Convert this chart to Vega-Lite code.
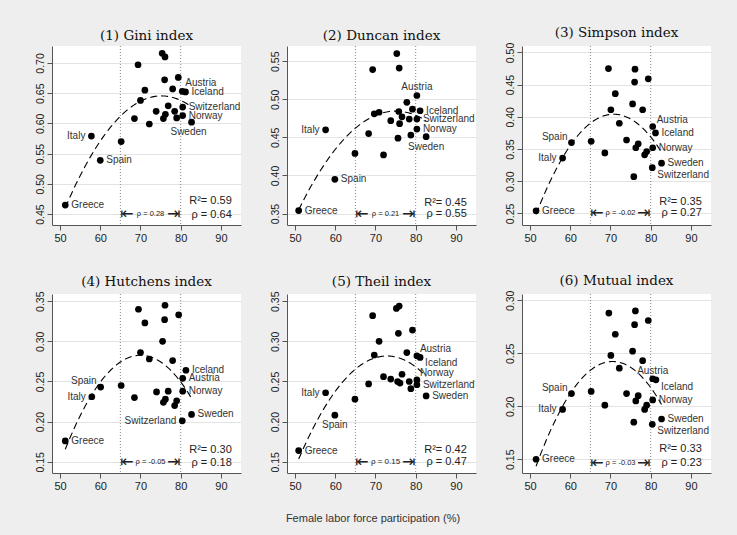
{
"$schema":"https://vega.github.io/schema/vega-lite/v6.json",
"background":"#eeeeee",
"padding":{"left":35,"top":25,"right":27,"bottom":15},
"title":{"text":"Female labor force participation (%)","orient":"bottom","anchor":"middle","font":"Liberation Sans","fontSize":11,"fontWeight":"normal","color":"#333","offset":22},
"datasets":{
"p1":[{"x":51.3,"y":0.465,"c":"Greece","p":"r"},{"x":57.8,"y":0.579,"c":"Italy","p":"l"},{"x":60.0,"y":0.539,"c":"Spain","p":"r"},{"x":65.2,"y":0.570},{"x":68.5,"y":0.608},{"x":69.4,"y":0.697},{"x":70.0,"y":0.638},{"x":71.1,"y":0.655},{"x":72.2,"y":0.599},{"x":73.9,"y":0.620},{"x":75.4,"y":0.716},{"x":76.1,"y":0.710},{"x":76.0,"y":0.672},{"x":75.7,"y":0.608},{"x":76.2,"y":0.615},{"x":76.9,"y":0.629},{"x":78.0,"y":0.657},{"x":78.5,"y":0.620},{"x":79.0,"y":0.609},{"x":79.4,"y":0.676},{"x":80.4,"y":0.653,"c":"Austria","p":"ar"},{"x":81.2,"y":0.652,"c":"Iceland","p":"r"},{"x":80.5,"y":0.627,"c":"Switzerland","p":"r"},{"x":80.5,"y":0.613,"c":"Norway","p":"r"},{"x":82.7,"y":0.602,"c":"Sweden","p":"b"}],
"p2":[{"x":50.9,"y":0.354,"c":"Greece","p":"r"},{"x":57.6,"y":0.460,"c":"Italy","p":"l"},{"x":59.9,"y":0.395,"c":"Spain","p":"r"},{"x":64.9,"y":0.429},{"x":68.3,"y":0.455},{"x":69.3,"y":0.539},{"x":69.7,"y":0.481},{"x":70.9,"y":0.483},{"x":72.0,"y":0.427},{"x":73.8,"y":0.472},{"x":75.3,"y":0.560},{"x":75.9,"y":0.541},{"x":75.6,"y":0.449},{"x":76.0,"y":0.468},{"x":75.8,"y":0.484},{"x":76.6,"y":0.477},{"x":77.8,"y":0.496},{"x":78.4,"y":0.474},{"x":78.8,"y":0.453},{"x":79.2,"y":0.487},{"x":80.3,"y":0.505,"c":"Austria","p":"a"},{"x":81.1,"y":0.485,"c":"Iceland","p":"r"},{"x":80.3,"y":0.474,"c":"Switzerland","p":"r"},{"x":80.3,"y":0.461,"c":"Norway","p":"r"},{"x":82.6,"y":0.451,"c":"Sweden","p":"b"}],
"p3":[{"x":51.5,"y":0.254,"c":"Greece","p":"r"},{"x":58.1,"y":0.336,"c":"Italy","p":"l"},{"x":60.3,"y":0.360,"c":"Spain","p":"al"},{"x":65.2,"y":0.362},{"x":68.6,"y":0.344},{"x":69.5,"y":0.475},{"x":70.1,"y":0.411},{"x":71.2,"y":0.436},{"x":72.2,"y":0.390},{"x":74.0,"y":0.364},{"x":75.5,"y":0.420},{"x":76.1,"y":0.474},{"x":76.0,"y":0.454},{"x":75.8,"y":0.307},{"x":76.3,"y":0.352},{"x":76.9,"y":0.358},{"x":78.0,"y":0.411},{"x":78.5,"y":0.341},{"x":79.0,"y":0.346},{"x":79.4,"y":0.459},{"x":80.5,"y":0.385,"c":"Austria","p":"ar"},{"x":81.2,"y":0.375,"c":"Iceland","p":"r"},{"x":80.5,"y":0.352,"c":"Norway","p":"r"},{"x":80.4,"y":0.321,"c":"Switzerland","p":"br"},{"x":82.7,"y":0.328,"c":"Sweden","p":"r"}],
"p4":[{"x":51.3,"y":0.176,"c":"Greece","p":"r"},{"x":57.9,"y":0.231,"c":"Italy","p":"l"},{"x":60.1,"y":0.243,"c":"Spain","p":"al"},{"x":65.2,"y":0.245},{"x":68.5,"y":0.230},{"x":69.5,"y":0.340},{"x":70.0,"y":0.286},{"x":71.1,"y":0.323},{"x":72.2,"y":0.278},{"x":74.0,"y":0.237},{"x":75.5,"y":0.300},{"x":76.1,"y":0.345},{"x":76.0,"y":0.327},{"x":75.7,"y":0.224},{"x":76.2,"y":0.228},{"x":76.9,"y":0.238},{"x":78.0,"y":0.276},{"x":78.5,"y":0.220},{"x":79.0,"y":0.226},{"x":79.5,"y":0.333},{"x":81.3,"y":0.264,"c":"Iceland","p":"r"},{"x":80.5,"y":0.254,"c":"Austria","p":"r"},{"x":80.5,"y":0.238,"c":"Norway","p":"r"},{"x":80.4,"y":0.201,"c":"Switzerland","p":"l"},{"x":82.7,"y":0.209,"c":"Sweden","p":"r"}],
"p5":[{"x":50.9,"y":0.164,"c":"Greece","p":"r"},{"x":57.6,"y":0.236,"c":"Italy","p":"l"},{"x":59.9,"y":0.208,"c":"Spain","p":"b"},{"x":64.9,"y":0.228},{"x":68.3,"y":0.247},{"x":69.3,"y":0.332},{"x":69.7,"y":0.283},{"x":70.9,"y":0.300},{"x":72.0,"y":0.256},{"x":73.8,"y":0.253},{"x":75.2,"y":0.341},{"x":75.9,"y":0.344},{"x":75.7,"y":0.310},{"x":75.5,"y":0.250},{"x":76.1,"y":0.248},{"x":76.6,"y":0.259},{"x":77.8,"y":0.286},{"x":78.4,"y":0.250},{"x":78.8,"y":0.241},{"x":79.2,"y":0.314},{"x":80.3,"y":0.282,"c":"Austria","p":"ar"},{"x":81.1,"y":0.280,"c":"Iceland","p":"br"},{"x":80.3,"y":0.252,"c":"Norway","p":"ar"},{"x":80.3,"y":0.246,"c":"Switzerland","p":"r"},{"x":82.6,"y":0.232,"c":"Sweden","p":"r"}],
"p6":[{"x":51.5,"y":0.150,"c":"Greece","p":"r"},{"x":58.1,"y":0.197,"c":"Italy","p":"l"},{"x":60.3,"y":0.212,"c":"Spain","p":"al"},{"x":65.2,"y":0.214},{"x":68.6,"y":0.201},{"x":69.6,"y":0.288},{"x":70.1,"y":0.248},{"x":71.2,"y":0.268},{"x":72.2,"y":0.236},{"x":74.0,"y":0.212},{"x":75.5,"y":0.252},{"x":76.2,"y":0.290},{"x":76.0,"y":0.277},{"x":75.8,"y":0.185},{"x":76.3,"y":0.205},{"x":76.9,"y":0.210},{"x":78.0,"y":0.243},{"x":78.5,"y":0.197},{"x":79.0,"y":0.201},{"x":79.4,"y":0.281},{"x":80.5,"y":0.226,"c":"Austria","p":"a"},{"x":81.3,"y":0.225,"c":"Iceland","p":"br"},{"x":80.5,"y":0.206,"c":"Norway","p":"r"},{"x":80.4,"y":0.183,"c":"Switzerland","p":"br"},{"x":82.7,"y":0.188,"c":"Sweden","p":"r"}]
},
"spacing":30,
"vconcat":[
{"hconcat":[
{"width":189,"height":179,"title":"(1) Gini index",
 "encoding":{"x":{"field":"x","type":"quantitative","scale":{"domain":[48,95],"nice":false,"zero":false},"axis":{"values":[50,60,70,80,90],"tickCount":20,"title":null,"grid":false}}},
 "layer":[
  {"data":{"values":[{"x":65},{"x":80}]},"mark":{"type":"rule","color":"#888","strokeDash":[1,2]},"encoding":{}},
  {"data":{"name":"p1"},"transform":[{"regression":"y","on":"x","method":"poly","order":2}],"mark":{"type":"line","color":"black","strokeDash":[7,4],"strokeWidth":1.1},"encoding":{"y":{"field":"y","type":"quantitative","scale":{"domain":[0.432,0.728],"nice":false,"zero":false},"axis":{"values":[0.45,0.5,0.55,0.6,0.65,0.7],"tickCount":20,"format":".2f","title":null,"labelOverlap":false}}}},
  {"data":{"name":"p1"},"mark":{"type":"circle","size":45,"color":"black","opacity":1},"encoding":{"y":{"field":"y","type":"quantitative"}}},
  {"data":{"name":"p1"},"transform":[{"filter":"datum.p==='r'"}],"mark":{"type":"text","align":"left","dx":6},"encoding":{"y":{"field":"y","type":"quantitative"},"text":{"field":"c"}}},
  {"data":{"name":"p1"},"transform":[{"filter":"datum.p==='l'"}],"mark":{"type":"text","align":"right","dx":-6},"encoding":{"y":{"field":"y","type":"quantitative"},"text":{"field":"c"}}},
  {"data":{"name":"p1"},"transform":[{"filter":"datum.p==='ar'"}],"mark":{"type":"text","align":"left","dx":3,"dy":-8},"encoding":{"y":{"field":"y","type":"quantitative"},"text":{"field":"c"}}},
  {"data":{"name":"p1"},"transform":[{"filter":"datum.p==='b'"}],"mark":{"type":"text","align":"center","dx":-3,"dy":10},"encoding":{"y":{"field":"y","type":"quantitative"},"text":{"field":"c"}}},
  {"data":{"values":[{"x":92.7,"y":0.471,"t":"R²= 0.59"},{"x":92.7,"y":0.449,"t":"ρ = 0.64"}]},"mark":{"type":"text","align":"right","fontSize":11,"color":"#222"},"encoding":{"y":{"field":"y","type":"quantitative"},"text":{"field":"t"}}},
  {"data":{"values":[{"x":65,"y":0.450,"t":"⇤"}]},"mark":{"type":"text","align":"left","font":"DejaVu Sans","fontSize":16,"color":"#222"},"encoding":{"y":{"field":"y","type":"quantitative"},"text":{"field":"t"}}},
  {"data":{"values":[{"x":80,"y":0.450,"t":"⇥"}]},"mark":{"type":"text","align":"right","font":"DejaVu Sans","fontSize":16,"color":"#222"},"encoding":{"y":{"field":"y","type":"quantitative"},"text":{"field":"t"}}},
  {"data":{"values":[{"x":72.5,"y":0.450,"t":"ρ = 0.28"}]},"mark":{"type":"text","align":"center","fontSize":7.5,"color":"#222"},"encoding":{"y":{"field":"y","type":"quantitative"},"text":{"field":"t"}}}
 ]},
{"width":189,"height":179,"title":"(2) Duncan index",
 "encoding":{"x":{"field":"x","type":"quantitative","scale":{"domain":[48,95],"nice":false,"zero":false},"axis":{"values":[50,60,70,80,90],"tickCount":20,"title":null,"grid":false}}},
 "layer":[
  {"data":{"values":[{"x":65},{"x":80}]},"mark":{"type":"rule","color":"#888","strokeDash":[1,2]},"encoding":{}},
  {"data":{"name":"p2"},"transform":[{"regression":"y","on":"x","method":"poly","order":2}],"mark":{"type":"line","color":"black","strokeDash":[7,4],"strokeWidth":1.1},"encoding":{"y":{"field":"y","type":"quantitative","scale":{"domain":[0.335,0.57],"nice":false,"zero":false},"axis":{"values":[0.35,0.4,0.45,0.5,0.55],"tickCount":20,"format":".2f","title":null,"labelOverlap":false}}}},
  {"data":{"name":"p2"},"mark":{"type":"circle","size":45,"color":"black","opacity":1},"encoding":{"y":{"field":"y","type":"quantitative"}}},
  {"data":{"name":"p2"},"transform":[{"filter":"datum.p==='r'"}],"mark":{"type":"text","align":"left","dx":6},"encoding":{"y":{"field":"y","type":"quantitative"},"text":{"field":"c"}}},
  {"data":{"name":"p2"},"transform":[{"filter":"datum.p==='l'"}],"mark":{"type":"text","align":"right","dx":-6},"encoding":{"y":{"field":"y","type":"quantitative"},"text":{"field":"c"}}},
  {"data":{"name":"p2"},"transform":[{"filter":"datum.p==='a'"}],"mark":{"type":"text","align":"center","dy":-9},"encoding":{"y":{"field":"y","type":"quantitative"},"text":{"field":"c"}}},
  {"data":{"name":"p2"},"transform":[{"filter":"datum.p==='b'"}],"mark":{"type":"text","align":"center","dy":10},"encoding":{"y":{"field":"y","type":"quantitative"},"text":{"field":"c"}}},
  {"data":{"values":[{"x":92.7,"y":0.3635,"t":"R²= 0.45"},{"x":92.7,"y":0.350,"t":"ρ = 0.55"}]},"mark":{"type":"text","align":"right","fontSize":11,"color":"#222"},"encoding":{"y":{"field":"y","type":"quantitative"},"text":{"field":"t"}}},
  {"data":{"values":[{"x":65,"y":0.350,"t":"⇤"}]},"mark":{"type":"text","align":"left","font":"DejaVu Sans","fontSize":16,"color":"#222"},"encoding":{"y":{"field":"y","type":"quantitative"},"text":{"field":"t"}}},
  {"data":{"values":[{"x":80,"y":0.350,"t":"⇥"}]},"mark":{"type":"text","align":"right","font":"DejaVu Sans","fontSize":16,"color":"#222"},"encoding":{"y":{"field":"y","type":"quantitative"},"text":{"field":"t"}}},
  {"data":{"values":[{"x":72.5,"y":0.350,"t":"ρ = 0.21"}]},"mark":{"type":"text","align":"center","fontSize":7.5,"color":"#222"},"encoding":{"y":{"field":"y","type":"quantitative"},"text":{"field":"t"}}}
 ]},
{"width":189,"height":179,"title":"(3) Simpson index",
 "encoding":{"x":{"field":"x","type":"quantitative","scale":{"domain":[48,95],"nice":false,"zero":false},"axis":{"values":[50,60,70,80,90],"tickCount":20,"title":null,"grid":false}}},
 "layer":[
  {"data":{"values":[{"x":65},{"x":80}]},"mark":{"type":"rule","color":"#888","strokeDash":[1,2]},"encoding":{}},
  {"data":{"name":"p3"},"transform":[{"regression":"y","on":"x","method":"poly","order":2}],"mark":{"type":"line","color":"black","strokeDash":[7,4],"strokeWidth":1.1},"encoding":{"y":{"field":"y","type":"quantitative","scale":{"domain":[0.232,0.51],"nice":false,"zero":false},"axis":{"values":[0.25,0.3,0.35,0.4,0.45,0.5],"tickCount":20,"format":".2f","title":null,"labelOverlap":false}}}},
  {"data":{"name":"p3"},"mark":{"type":"circle","size":45,"color":"black","opacity":1},"encoding":{"y":{"field":"y","type":"quantitative"}}},
  {"data":{"name":"p3"},"transform":[{"filter":"datum.p==='r'"}],"mark":{"type":"text","align":"left","dx":6},"encoding":{"y":{"field":"y","type":"quantitative"},"text":{"field":"c"}}},
  {"data":{"name":"p3"},"transform":[{"filter":"datum.p==='l'"}],"mark":{"type":"text","align":"right","dx":-6},"encoding":{"y":{"field":"y","type":"quantitative"},"text":{"field":"c"}}},
  {"data":{"name":"p3"},"transform":[{"filter":"datum.p==='al'"}],"mark":{"type":"text","align":"right","dx":-4,"dy":-6},"encoding":{"y":{"field":"y","type":"quantitative"},"text":{"field":"c"}}},
  {"data":{"name":"p3"},"transform":[{"filter":"datum.p==='ar'"}],"mark":{"type":"text","align":"left","dx":4,"dy":-6},"encoding":{"y":{"field":"y","type":"quantitative"},"text":{"field":"c"}}},
  {"data":{"name":"p3"},"transform":[{"filter":"datum.p==='br'"}],"mark":{"type":"text","align":"left","dx":5,"dy":7},"encoding":{"y":{"field":"y","type":"quantitative"},"text":{"field":"c"}}},
  {"data":{"values":[{"x":92.7,"y":0.267,"t":"R²= 0.35"},{"x":92.7,"y":0.251,"t":"ρ = 0.27"}]},"mark":{"type":"text","align":"right","fontSize":11,"color":"#222"},"encoding":{"y":{"field":"y","type":"quantitative"},"text":{"field":"t"}}},
  {"data":{"values":[{"x":65,"y":0.250,"t":"⇤"}]},"mark":{"type":"text","align":"left","font":"DejaVu Sans","fontSize":16,"color":"#222"},"encoding":{"y":{"field":"y","type":"quantitative"},"text":{"field":"t"}}},
  {"data":{"values":[{"x":80,"y":0.250,"t":"⇥"}]},"mark":{"type":"text","align":"right","font":"DejaVu Sans","fontSize":16,"color":"#222"},"encoding":{"y":{"field":"y","type":"quantitative"},"text":{"field":"t"}}},
  {"data":{"values":[{"x":72.5,"y":0.250,"t":"ρ = -0.02"}]},"mark":{"type":"text","align":"center","fontSize":7.5,"color":"#222"},"encoding":{"y":{"field":"y","type":"quantitative"},"text":{"field":"t"}}}
 ]}
],"spacing":29},
{"hconcat":[
{"width":189,"height":179,"title":"(4) Hutchens index",
 "encoding":{"x":{"field":"x","type":"quantitative","scale":{"domain":[48,95],"nice":false,"zero":false},"axis":{"values":[50,60,70,80,90],"tickCount":20,"title":null,"grid":false}}},
 "layer":[
  {"data":{"values":[{"x":65},{"x":80}]},"mark":{"type":"rule","color":"#888","strokeDash":[1,2]},"encoding":{}},
  {"data":{"name":"p4"},"transform":[{"regression":"y","on":"x","method":"poly","order":2}],"mark":{"type":"line","color":"black","strokeDash":[7,4],"strokeWidth":1.1},"encoding":{"y":{"field":"y","type":"quantitative","scale":{"domain":[0.136,0.359],"nice":false,"zero":false},"axis":{"values":[0.15,0.2,0.25,0.3,0.35],"tickCount":20,"format":".2f","title":null,"labelOverlap":false}}}},
  {"data":{"name":"p4"},"mark":{"type":"circle","size":45,"color":"black","opacity":1},"encoding":{"y":{"field":"y","type":"quantitative"}}},
  {"data":{"name":"p4"},"transform":[{"filter":"datum.p==='r'"}],"mark":{"type":"text","align":"left","dx":6},"encoding":{"y":{"field":"y","type":"quantitative"},"text":{"field":"c"}}},
  {"data":{"name":"p4"},"transform":[{"filter":"datum.p==='l'"}],"mark":{"type":"text","align":"right","dx":-6},"encoding":{"y":{"field":"y","type":"quantitative"},"text":{"field":"c"}}},
  {"data":{"name":"p4"},"transform":[{"filter":"datum.p==='al'"}],"mark":{"type":"text","align":"right","dx":-4,"dy":-6},"encoding":{"y":{"field":"y","type":"quantitative"},"text":{"field":"c"}}},
  {"data":{"values":[{"x":92.7,"y":0.1645,"t":"R²= 0.30"},{"x":92.7,"y":0.149,"t":"ρ = 0.18"}]},"mark":{"type":"text","align":"right","fontSize":11,"color":"#222"},"encoding":{"y":{"field":"y","type":"quantitative"},"text":{"field":"t"}}},
  {"data":{"values":[{"x":65,"y":0.150,"t":"⇤"}]},"mark":{"type":"text","align":"left","font":"DejaVu Sans","fontSize":16,"color":"#222"},"encoding":{"y":{"field":"y","type":"quantitative"},"text":{"field":"t"}}},
  {"data":{"values":[{"x":80,"y":0.150,"t":"⇥"}]},"mark":{"type":"text","align":"right","font":"DejaVu Sans","fontSize":16,"color":"#222"},"encoding":{"y":{"field":"y","type":"quantitative"},"text":{"field":"t"}}},
  {"data":{"values":[{"x":72.5,"y":0.150,"t":"ρ = -0.05"}]},"mark":{"type":"text","align":"center","fontSize":7.5,"color":"#222"},"encoding":{"y":{"field":"y","type":"quantitative"},"text":{"field":"t"}}}
 ]},
{"width":189,"height":179,"title":"(5) Theil index",
 "encoding":{"x":{"field":"x","type":"quantitative","scale":{"domain":[48,95],"nice":false,"zero":false},"axis":{"values":[50,60,70,80,90],"tickCount":20,"title":null,"grid":false}}},
 "layer":[
  {"data":{"values":[{"x":65},{"x":80}]},"mark":{"type":"rule","color":"#888","strokeDash":[1,2]},"encoding":{}},
  {"data":{"name":"p5"},"transform":[{"regression":"y","on":"x","method":"poly","order":2}],"mark":{"type":"line","color":"black","strokeDash":[7,4],"strokeWidth":1.1},"encoding":{"y":{"field":"y","type":"quantitative","scale":{"domain":[0.136,0.359],"nice":false,"zero":false},"axis":{"values":[0.15,0.2,0.25,0.3,0.35],"tickCount":20,"format":".2f","title":null,"labelOverlap":false}}}},
  {"data":{"name":"p5"},"mark":{"type":"circle","size":45,"color":"black","opacity":1},"encoding":{"y":{"field":"y","type":"quantitative"}}},
  {"data":{"name":"p5"},"transform":[{"filter":"datum.p==='r'"}],"mark":{"type":"text","align":"left","dx":6},"encoding":{"y":{"field":"y","type":"quantitative"},"text":{"field":"c"}}},
  {"data":{"name":"p5"},"transform":[{"filter":"datum.p==='l'"}],"mark":{"type":"text","align":"right","dx":-6},"encoding":{"y":{"field":"y","type":"quantitative"},"text":{"field":"c"}}},
  {"data":{"name":"p5"},"transform":[{"filter":"datum.p==='b'"}],"mark":{"type":"text","align":"center","dy":10},"encoding":{"y":{"field":"y","type":"quantitative"},"text":{"field":"c"}}},
  {"data":{"name":"p5"},"transform":[{"filter":"datum.p==='ar'"}],"mark":{"type":"text","align":"left","dx":3,"dy":-7},"encoding":{"y":{"field":"y","type":"quantitative"},"text":{"field":"c"}}},
  {"data":{"name":"p5"},"transform":[{"filter":"datum.p==='br'"}],"mark":{"type":"text","align":"left","dx":5,"dy":6},"encoding":{"y":{"field":"y","type":"quantitative"},"text":{"field":"c"}}},
  {"data":{"values":[{"x":92.7,"y":0.1645,"t":"R²= 0.42"},{"x":92.7,"y":0.150,"t":"ρ = 0.47"}]},"mark":{"type":"text","align":"right","fontSize":11,"color":"#222"},"encoding":{"y":{"field":"y","type":"quantitative"},"text":{"field":"t"}}},
  {"data":{"values":[{"x":65,"y":0.150,"t":"⇤"}]},"mark":{"type":"text","align":"left","font":"DejaVu Sans","fontSize":16,"color":"#222"},"encoding":{"y":{"field":"y","type":"quantitative"},"text":{"field":"t"}}},
  {"data":{"values":[{"x":80,"y":0.150,"t":"⇥"}]},"mark":{"type":"text","align":"right","font":"DejaVu Sans","fontSize":16,"color":"#222"},"encoding":{"y":{"field":"y","type":"quantitative"},"text":{"field":"t"}}},
  {"data":{"values":[{"x":72.5,"y":0.150,"t":"ρ = 0.15"}]},"mark":{"type":"text","align":"center","fontSize":8,"color":"#222"},"encoding":{"y":{"field":"y","type":"quantitative"},"text":{"field":"t"}}}
 ]},
{"width":189,"height":179,"title":"(6) Mutual index",
 "encoding":{"x":{"field":"x","type":"quantitative","scale":{"domain":[48,95],"nice":false,"zero":false},"axis":{"values":[50,60,70,80,90],"tickCount":20,"title":null,"grid":false}}},
 "layer":[
  {"data":{"values":[{"x":65},{"x":80}]},"mark":{"type":"rule","color":"#888","strokeDash":[1,2]},"encoding":{}},
  {"data":{"name":"p6"},"transform":[{"regression":"y","on":"x","method":"poly","order":2}],"mark":{"type":"line","color":"black","strokeDash":[7,4],"strokeWidth":1.1},"encoding":{"y":{"field":"y","type":"quantitative","scale":{"domain":[0.137,0.306],"nice":false,"zero":false},"axis":{"values":[0.15,0.2,0.25,0.3],"tickCount":20,"format":".2f","title":null,"labelOverlap":false}}}},
  {"data":{"name":"p6"},"mark":{"type":"circle","size":45,"color":"black","opacity":1},"encoding":{"y":{"field":"y","type":"quantitative"}}},
  {"data":{"name":"p6"},"transform":[{"filter":"datum.p==='r'"}],"mark":{"type":"text","align":"left","dx":6},"encoding":{"y":{"field":"y","type":"quantitative"},"text":{"field":"c"}}},
  {"data":{"name":"p6"},"transform":[{"filter":"datum.p==='l'"}],"mark":{"type":"text","align":"right","dx":-6},"encoding":{"y":{"field":"y","type":"quantitative"},"text":{"field":"c"}}},
  {"data":{"name":"p6"},"transform":[{"filter":"datum.p==='al'"}],"mark":{"type":"text","align":"right","dx":-4,"dy":-6},"encoding":{"y":{"field":"y","type":"quantitative"},"text":{"field":"c"}}},
  {"data":{"name":"p6"},"transform":[{"filter":"datum.p==='a'"}],"mark":{"type":"text","align":"center","dy":-8},"encoding":{"y":{"field":"y","type":"quantitative"},"text":{"field":"c"}}},
  {"data":{"name":"p6"},"transform":[{"filter":"datum.p==='br'"}],"mark":{"type":"text","align":"left","dx":5,"dy":7},"encoding":{"y":{"field":"y","type":"quantitative"},"text":{"field":"c"}}},
  {"data":{"values":[{"x":92.7,"y":0.1595,"t":"R²= 0.33"},{"x":92.7,"y":0.1468,"t":"ρ = 0.23"}]},"mark":{"type":"text","align":"right","fontSize":11,"color":"#222"},"encoding":{"y":{"field":"y","type":"quantitative"},"text":{"field":"t"}}},
  {"data":{"values":[{"x":65,"y":0.1468,"t":"⇤"}]},"mark":{"type":"text","align":"left","font":"DejaVu Sans","fontSize":16,"color":"#222"},"encoding":{"y":{"field":"y","type":"quantitative"},"text":{"field":"t"}}},
  {"data":{"values":[{"x":80,"y":0.1468,"t":"⇥"}]},"mark":{"type":"text","align":"right","font":"DejaVu Sans","fontSize":16,"color":"#222"},"encoding":{"y":{"field":"y","type":"quantitative"},"text":{"field":"t"}}},
  {"data":{"values":[{"x":72.5,"y":0.1468,"t":"ρ = -0.03"}]},"mark":{"type":"text","align":"center","fontSize":7.5,"color":"#222"},"encoding":{"y":{"field":"y","type":"quantitative"},"text":{"field":"t"}}}
 ]}
],"spacing":29}
],
"config":{
 "view":{"stroke":null,"fill":"white"},
 "title":{"font":"DejaVu Serif","fontSize":13.5,"fontWeight":"normal","color":"#111","offset":3},
 "text":{"font":"Liberation Sans","fontSize":10,"color":"#333","baseline":"middle"},
 "axis":{"labelFont":"Liberation Sans","labelFontSize":11,"labelColor":"#222","domainColor":"#555","tickColor":"#555","tickSize":5,"gridColor":"#e3e3e3","gridWidth":1.2,"labelPadding":2},
 "axisY":{"labelAngle":-90,"labelAlign":"center","labelBaseline":"bottom","labelOverlap":false,"labelFontSize":10.5}
}
}
